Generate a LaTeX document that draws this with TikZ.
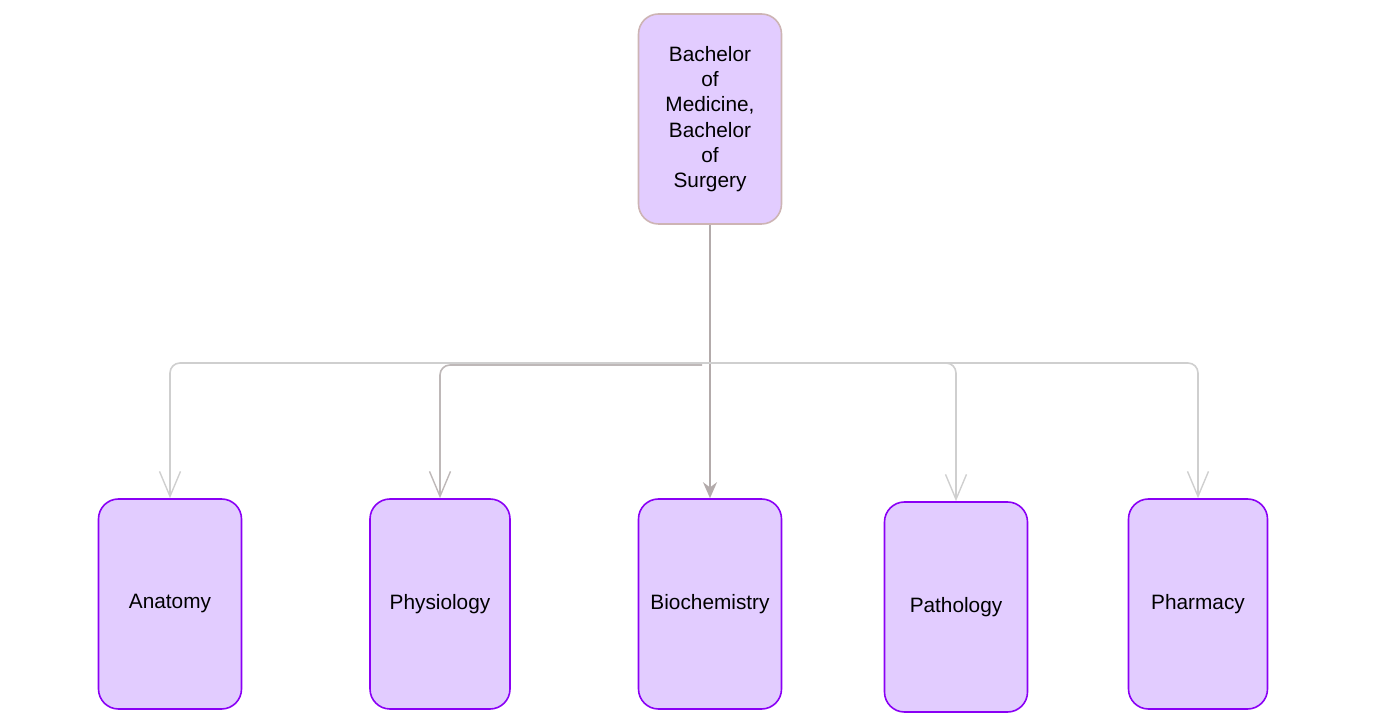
\documentclass[tikz,border=0pt]{standalone}
\usepackage{fontspec}
\setmainfont{Liberation Sans}
\usetikzlibrary{arrows.meta}

\definecolor{boxfill}{HTML}{E2CCFF}
\definecolor{boxline}{HTML}{8A00F5}
\definecolor{rootline}{HTML}{CDB4B4}
\definecolor{stemgray}{HTML}{B3ABAB}
\definecolor{branchgray}{HTML}{CFCFCF}

\begin{document}
\begin{tikzpicture}[
    x=1pt, y=1pt,
    font=\fontsize{20.8}{25.3}\selectfont,
    subject/.style={draw=boxline, fill=boxfill, line width=1.6pt, rounded corners=20pt,
        minimum width=143pt, minimum height=210pt, inner sep=0pt, align=center},
    branch/.style={draw=branchgray, line width=1.6pt, rounded corners=10pt,
        -{Straight Barb[length=25pt, width=21pt, line width=1.4pt]}},
    stem/.style={draw=stemgray, line width=1.6pt}
]

    \useasboundingbox (0,0) rectangle (1398,728);

    % Degree (top)
    \node[subject, draw=rootline] (degree) at (710,609)
        {Bachelor\\of\\Medicine,\\Bachelor\\of\\Surgery};

    % Subjects (bottom row)
    \node[subject] (anatomy)      at (170,124) {Anatomy};
    \node[subject, minimum width=140pt] (physiology) at (440,124) {Physiology};
    \node[subject] (biochemistry) at (710,124) {Biochemistry};
    \node[subject] (pathology)    at (956,121) {Pathology};
    \node[subject, minimum width=139pt] (pharmacy)   at (1198,124) {Pharmacy};

    \coordinate (split) at (710,365);

    % Connectors
    \draw[stem, -{Stealth[length=16pt, width=14pt]}] (degree.south) -- (biochemistry.north);
    \draw[branch] (split) -| (anatomy.north);
    \draw[branch, draw=stemgray!85] (split) ++(-8,-2) -| (physiology.north);
    \draw[branch] (split) -| (pathology.north);
    \draw[branch] (split) -| (pharmacy.north);

\end{tikzpicture}
\end{document}
